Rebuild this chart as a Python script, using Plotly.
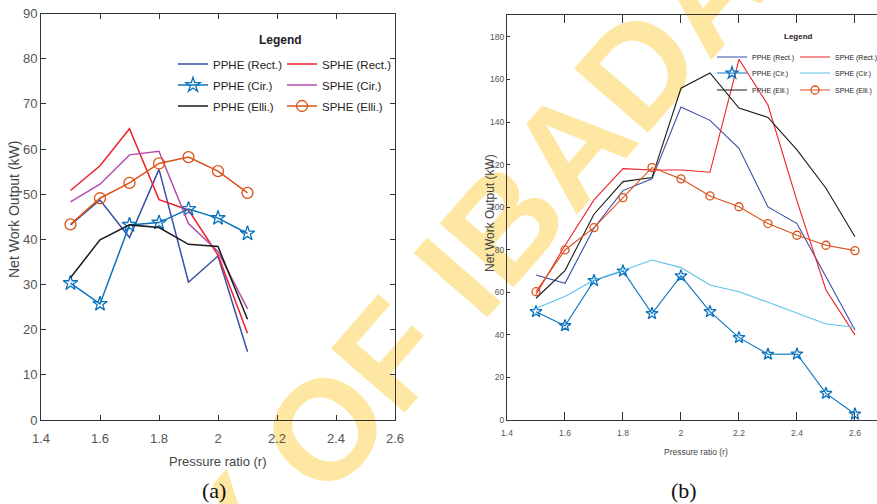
import plotly.graph_objects as go

W, H = 877, 504

# ---------------- data ----------------
x_a = [1.5, 1.6, 1.7, 1.8, 1.9, 2.0, 2.1]
a_pphe_rect = [43.2, 48.7, 40.4, 55.5, 30.5, 36.3, 15.1]
a_pphe_cir = [30.3, 25.7, 43.2, 43.7, 46.7, 44.7, 41.3]
a_pphe_elli = [31.5, 39.9, 43.2, 42.6, 38.9, 38.4, 22.3]
a_sphe_rect = [50.8, 56.3, 64.5, 48.8, 46.5, 36.5, 19.2]
a_sphe_cir = [48.3, 52.2, 58.7, 59.5, 43.5, 37.3, 24.6]
a_sphe_elli = [43.3, 49.1, 52.5, 56.8, 58.2, 55.1, 50.3]

x_b = [1.5, 1.6, 1.7, 1.8, 1.9, 2.0, 2.1, 2.2, 2.3, 2.4, 2.5, 2.6]
b_pphe_rect = [68.1, 64.2, 90.2, 107.8, 113.3, 147.1, 140.8, 127.7, 100.1, 92.3, 67.3, 42.3]
b_pphe_cir = [50.9, 44.3, 65.5, 70.0, 50.0, 67.7, 50.9, 38.7, 30.9, 31.0, 12.5, 2.8]
b_pphe_elli = [57.2, 70.2, 96.7, 112.0, 113.9, 155.9, 163.1, 146.6, 142.2, 126.9, 108.9, 86.1]
b_sphe_rect = [59.0, 82.0, 103.4, 118.1, 117.5, 117.5, 116.4, 169.5, 148.0, 103.0, 61.1, 40.0]
b_sphe_cir = [52.5, 58.0, 65.8, 70.2, 75.2, 71.6, 63.4, 60.3, 55.3, 50.1, 45.1, 43.6]
b_sphe_elli = [60.3, 79.9, 90.4, 104.5, 118.6, 113.3, 105.3, 100.2, 92.3, 86.8, 82.1, 79.6]

names = ["PPHE (Rect.)", "PPHE (Cir.)", "PPHE (Elli.)", "SPHE (Rect.)", "SPHE (Cir.)", "SPHE (Elli.)"]
xticks = [1.4, 1.6, 1.8, 2.0, 2.2, 2.4, 2.6]
yticks_a = [0, 10, 20, 30, 40, 50, 60, 70, 80, 90]
yticks_b = [0, 20, 40, 60, 80, 100, 120, 140, 160, 180]

C_PR = "#3A4DA6"
C_PC = "#0A72BD"
C_PE = "#1A1A1A"
C_SR = "#EE2028"
C_SC_A = "#B44DAE"
C_SC_B = "#5CC3EC"
C_SE = "#D95319"

SANS = "Liberation Sans, Arial, sans-serif"
SERIF = "Liberation Serif, Times New Roman, serif"

fig = go.Figure()

def add(x, y, name, color, xa, ya, legend, width, symbol=None, msize=0):
    mode = "lines+markers" if symbol else "lines"
    kw = {}
    if symbol:
        kw["marker"] = dict(symbol=symbol, size=msize, color=color, line=dict(width=1.3, color=color))
    fig.add_trace(go.Scatter(x=x, y=y, name=name, mode=mode, xaxis=xa, yaxis=ya,
                             line=dict(color=color, width=width), legend=legend, **kw))

# (a): one horizontal legend per legend row
add(x_a, a_pphe_rect, names[0], C_PR, "x", "y", "legend", 1.5)
add(x_a, a_sphe_rect, names[3], C_SR, "x", "y", "legend", 1.5)
add(x_a, a_pphe_cir, names[1], C_PC, "x", "y", "legend2", 1.5, "star-open", 11)
add(x_a, a_sphe_cir, names[4], C_SC_A, "x", "y", "legend2", 1.5)
add(x_a, a_pphe_elli, names[2], C_PE, "x", "y", "legend3", 1.5)
add(x_a, a_sphe_elli, names[5], C_SE, "x", "y", "legend3", 1.5, "circle-open", 11)
# (b)
add(x_b, b_pphe_rect, names[0], C_PR, "x2", "y2", "legend4", 1.1)
add(x_b, b_sphe_rect, names[3], C_SR, "x2", "y2", "legend4", 1.1)
add(x_b, b_pphe_cir, names[1], C_PC, "x2", "y2", "legend5", 1.1, "star-open", 9)
add(x_b, b_sphe_cir, names[4], C_SC_B, "x2", "y2", "legend5", 1.1)
add(x_b, b_pphe_elli, names[2], C_PE, "x2", "y2", "legend6", 1.1)
add(x_b, b_sphe_elli, names[5], C_SE, "x2", "y2", "legend6", 1.1, "circle-open", 8)

def px(v):
    return v / W

def py(v):
    return 1 - v / H

axis_col = "#333333"
tick_col = "#555555"

def leg(x, y, size, ew):
    return dict(x=px(x), y=py(y), xanchor="left", yanchor="middle", bgcolor="rgba(0,0,0,0)",
                orientation="h", entrywidth=ew, entrywidthmode="pixels",
                font=dict(family=SANS, size=size, color="#222222"))

fig.update_layout(
    width=W, height=H,
    margin=dict(l=0, r=0, t=0, b=0, autoexpand=False),
    paper_bgcolor="white", plot_bgcolor="rgba(0,0,0,0)",
    showlegend=True,
    xaxis=dict(domain=[px(41), px(395)], range=[1.4, 2.6], tickvals=xticks,
               showgrid=False, zeroline=False, showline=True, linecolor=axis_col, linewidth=1,
               mirror="ticks", ticks="inside", ticklen=5, tickcolor=axis_col,
               tickfont=dict(family=SANS, size=13, color=tick_col), ticklabelstandoff=6,
               anchor="y"),
    yaxis=dict(domain=[py(420), py(13.5)], range=[0, 90], tickvals=yticks_a,
               showgrid=False, zeroline=False, showline=True, linecolor=axis_col, linewidth=1,
               mirror="ticks", ticks="inside", ticklen=5, tickcolor=axis_col,
               tickfont=dict(family=SANS, size=13, color=tick_col), anchor="x"),
    xaxis2=dict(domain=[px(507), 1.0], range=[1.4, 2.676], tickvals=xticks,
                showgrid=False, zeroline=False, showline=True, linecolor=axis_col, linewidth=1,
                mirror="ticks", ticks="inside", ticklen=8, tickcolor=axis_col,
                tickfont=dict(family=SANS, size=8.5, color=tick_col), ticklabelstandoff=5,
                anchor="y2"),
    yaxis2=dict(domain=[py(420), py(15)], range=[0, 190.3], tickvals=yticks_b,
                showgrid=False, zeroline=False, showline=True, linecolor=axis_col, linewidth=1,
                mirror=False, ticks="inside", ticklen=3, tickcolor=axis_col,
                tickfont=dict(family=SANS, size=8.5, color=tick_col), anchor="x2"),
    legend=leg(173, 64, 11.5, 64),
    legend2=leg(173, 85, 11.5, 64),
    legend3=leg(173, 106, 11.5, 64),
    legend4=leg(712, 57, 7, 38),
    legend5=leg(712, 73, 7, 38),
    legend6=leg(712, 90, 7, 38),
)

ann = [
    dict(text="<b>Legend</b>", x=px(280), y=py(40), font=dict(family=SANS, size=12, color="#222222")),
    dict(text="<b>Legend</b>", x=px(798), y=py(37), font=dict(family=SANS, size=8, color="#222222")),
    dict(text="Net Work Output (kW)", x=px(14), y=py(210), textangle=-90,
         font=dict(family=SANS, size=14, color="#444444")),
    dict(text="Net Work Output (kW)", x=px(490), y=py(213), textangle=-90,
         font=dict(family=SANS, size=12, color="#444444")),
    dict(text="Pressure ratio (r)", x=px(218), y=py(461), font=dict(family=SANS, size=13, color="#444444")),
    dict(text="Pressure ratio (r)", x=px(696), y=py(452), font=dict(family=SANS, size=8.5, color="#444444")),
    dict(text="(a)", x=px(214), y=py(490), font=dict(family=SERIF, size=22, color="#111111")),
    dict(text="(b)", x=px(684), y=py(490), font=dict(family=SERIF, size=22, color="#111111")),
]
for a in ann:
    fig.add_annotation(xref="paper", yref="paper", showarrow=False, xanchor="center", yanchor="middle", **a)

# watermark (behind the plots)
cx, cy = 246, 500
fig.add_shape(type="rect", xref="paper", yref="paper",
              x0=px(cx - 1), x1=px(cx + 1), y0=py(cy + 1), y1=py(cy - 1),
              line=dict(width=0), fillcolor="rgba(0,0,0,0)", layer="below",
              label=dict(text="UNIVERSITY OF IBADAN", textangle=-49, textposition="middle center",
                         font=dict(family=SANS, size=142, color="#FDE7A2", weight="bold")))

fig.write_html("out.html")
